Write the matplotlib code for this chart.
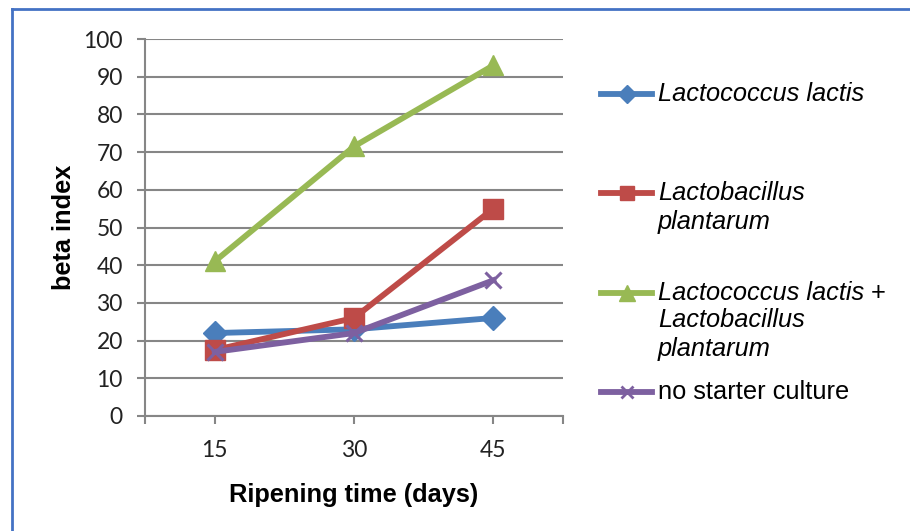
import matplotlib
matplotlib.use("Agg")
import matplotlib.pyplot as plt
from matplotlib.lines import Line2D

plt.rcParams['font.family'] = ['Liberation Sans', 'DejaVu Sans']

days = ['15', '30', '45']
lactis = [22, 23, 26]
plantarum = [17.5, 26, 55]
mixed = [41, 71.5, 93]
no_starter = [17, 22, 36]

series = [
    (lactis, '#4A7EBB', 'D', 12),
    (plantarum, '#BE4B48', 's', 14),
    (mixed, '#98B954', '^', 15),
    (no_starter, '#7D60A0', 'x', 12),
]

fig = plt.figure(figsize=(9.1, 5.31), dpi=100)
ax = fig.add_axes([145 / 910, 1 - 416 / 531, 418 / 910, 377 / 531])

x = list(range(len(days)))
for vals, col, mk, ms in series:
    if mk == 'x':
        ax.plot(x, vals, color=col, lw=4.2, marker=mk, ms=ms, mew=2.2, zorder=3)
    else:
        ax.plot(x, vals, color=col, lw=4.2, marker=mk, ms=ms, mec=col, zorder=3)

ax.set_xlim(-0.5, 2.5)
ax.set_ylim(0, 100)
ax.set_yticks(range(0, 101, 10))
ax.set_xticks(x)
ax.set_xticklabels(days)
ax.set_xticks([-0.5, 2.5], minor=True)
ax.grid(axis='y', color='#868686', lw=1.5)
ax.set_axisbelow(True)
for s in ['top', 'right']:
    ax.spines[s].set_visible(False)
for s in ['left', 'bottom']:
    ax.spines[s].set_color('#868686')
    ax.spines[s].set_linewidth(1.5)
ax.tick_params(which='both', length=6, width=1.5, color='#868686', labelsize=16.5, pad=10)
ax.tick_params(axis='x', pad=11)
for lab in ax.get_xticklabels() + ax.get_yticklabels():
    lab.set_family(['Lato', 'DejaVu Sans'])
    lab.set_color('#222222')
ax.set_xlabel('Ripening time (days)', fontsize=18.3, fontweight='bold', labelpad=16)
ax.set_ylabel('beta index', fontsize=18.3, fontweight='bold', labelpad=5)

# legend drawn by hand on the right
W, H = 910, 531
def handle(y, col, mk, ms):
    fig.add_artist(Line2D([601 / W, 652 / W], [1 - y / H, 1 - y / H], color=col, lw=4.2,
                          transform=fig.transFigure))
    fig.add_artist(Line2D([626.5 / W], [1 - y / H], color=col, marker=mk, ms=ms * 0.75,
                          mec=col, mew=2 if mk == 'x' else 1, transform=fig.transFigure))

def txt(xp, y, s, style='italic'):
    return fig.text(xp / W, 1 - y / H, s, fontsize=18.3, style=style, va='center', ha='left')

handle(94, *series[0][1:])
txt(658, 94, 'Lactococcus lactis')
handle(193, *series[1][1:])
txt(658, 193, 'Lactobacillus')
txt(658, 222, 'plantarum')
handle(293, *series[2][1:])
t = txt(658, 293, 'Lactococcus lactis ')
fig.canvas.draw()
bb = t.get_window_extent()
fig.text(bb.x1 / W, 1 - 293 / H, '+', fontsize=18.3, va='center')
txt(658, 320, 'Lactobacillus')
txt(658, 349, 'plantarum')
handle(392, *series[3][1:])
txt(658, 392, 'no starter culture', style='normal')

# frame edges at top and left
fig.add_artist(Line2D([12 / W, 1], [1 - 9 / H, 1 - 9 / H], color='#4472C4', lw=2, transform=fig.transFigure))
fig.add_artist(Line2D([12 / W, 12 / W], [0, 1 - 9 / H], color='#4472C4', lw=2, transform=fig.transFigure))

fig.savefig('out.png', dpi=100)
